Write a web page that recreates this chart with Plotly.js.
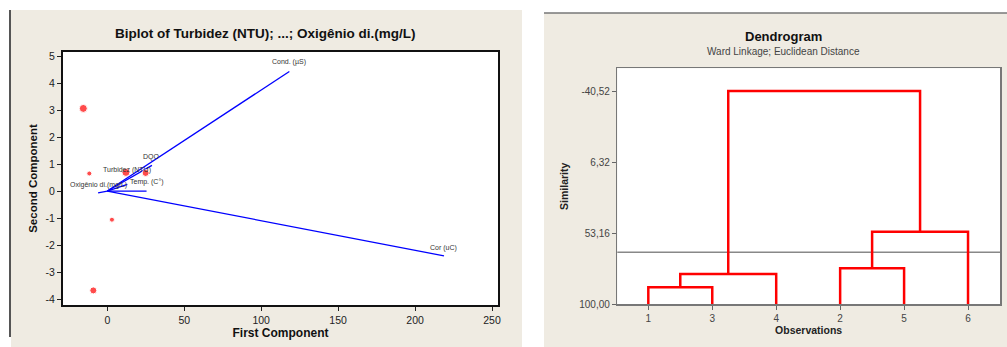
<!DOCTYPE html>
<html><head><meta charset="utf-8">
<script src="https://cdn.plot.ly/plotly-3.0.1.min.js"></script>
<style>html,body{margin:0;padding:0;background:#fff}#chart{width:1007px;height:347px}</style>
</head><body><div id="chart"></div>
<script>
// ---- Biplot data ----
const obsPC1 = [-15.6, -11.7, 12.1, 24.9, 3.0, -9.1];
const obsPC2 = [3.06, 0.65, 0.69, 0.67, -1.06, -3.68];
const varNames = ['Cond. (µS)', 'Cor (uC)', 'DQO', 'Temp. (C°)', 'Turbidez (NTU)', 'Oxigênio di.(mg/L)'];
const varPC1 = [118.3, 218.8, 29.0, 25.5, 13.0, -6.0];
const varPC2 = [4.43, -2.40, 0.95, 0.0, 0.25, -0.07];
const biplotXTicks = [0, 50, 100, 150, 200, 250];
const biplotYTicks = [-4, -3, -2, -1, 0, 1, 2, 3, 4, 5];
const biplotYTickLabels = ['-4', '-3', '-2', '-1', '0', '1', '2', '3', '4', '5'];

// ---- Dendrogram data ----
const observations = ['1', '3', '4', '2', '5', '6'];
const mergeFirst = ['1', '1+3', '2', '2+5', '1+3+4'];
const mergeSecond = ['3', '4', '5', '6', '2+5+6'];
const mergeSimilarity = [88.8, 80.0, 76.3, 52.2, -40.52];
const similarityTicks = [-40.52, 6.32, 53.16, 100];
const similarityTickLabels = ['-40,52', '6,32', '53,16', '100,00'];
const cutSimilarity = 65.7;

// ---- build traces ----
const vx = [], vy = [];
varPC1.forEach((v, i) => { vx.push(0, v, null); vy.push(0, varPC2[i], null); });

const nodes = {};
observations.forEach((o, i) => { nodes[o] = {x: i + 1, h: 100}; });
const dx = [], dy = [];
mergeFirst.forEach((a, i) => {
  const A = nodes[a], B = nodes[mergeSecond[i]], s = mergeSimilarity[i];
  dx.push(A.x, A.x, B.x, B.x, null);
  dy.push(A.h, s, s, B.h, null);
  nodes[a + '+' + mergeSecond[i]] = {x: (A.x + B.x) / 2, h: s};
});

const F = '"Liberation Sans", Arial, sans-serif';
const W = 1007, H = 347;
const px = v => v / W, py = v => 1 - v / H;

const traces = [
  {x: vx, y: vy, type: 'scatter', mode: 'lines', line: {color: '#0000ff', width: 1.3}, xaxis: 'x', yaxis: 'y', hoverinfo: 'skip'},
  {x: obsPC1, y: obsPC2, type: 'scatter', mode: 'markers', marker: {color: '#ff0000', size: [8, 5, 8, 7, 5, 7], symbol: 'circle'}, xaxis: 'x', yaxis: 'y'},
  {x: dx, y: dy, type: 'scatter', mode: 'lines', line: {color: '#ff0000', width: 2.5}, xaxis: 'x2', yaxis: 'y2', hoverinfo: 'skip'}
];

const annotations = [
  {text: 'Biplot of Turbidez (NTU); ...; Oxigênio di.(mg/L)', xref: 'paper', yref: 'paper', x: px(265), y: py(33), xanchor: 'center', yanchor: 'middle', showarrow: false, font: {family: F, size: 13.5, color: '#111', weight: 'bold'}},
  {text: 'Dendrogram', xref: 'paper', yref: 'paper', x: px(783), y: py(36), xanchor: 'center', yanchor: 'middle', showarrow: false, font: {family: F, size: 13, color: '#111', weight: 'bold'}},
  {text: 'Ward Linkage; Euclidean Distance', xref: 'paper', yref: 'paper', x: px(783), y: py(52), xanchor: 'center', yanchor: 'middle', showarrow: false, font: {family: F, size: 10, color: '#444'}}
];
const labelShift = [9, 8, 8, 9, 14, 8];
varNames.forEach((n, i) => {
  annotations.push({text: n, x: varPC1[i], y: varPC2[i], xref: 'x', yref: 'y', showarrow: false, xanchor: 'center', yanchor: 'middle', yshift: labelShift[i], font: {family: F, size: 7, color: '#333'}});
});

const shapes = [
  {type: 'rect', xref: 'paper', yref: 'paper', x0: px(11), x1: px(522), y0: 0, y1: py(10), fillcolor: '#efebe2', line: {width: 0}, layer: 'below'},
  {type: 'rect', xref: 'paper', yref: 'paper', x0: px(544), x1: 1, y0: 0, y1: py(13), fillcolor: '#efebe2', line: {width: 0}, layer: 'below'},
  {type: 'rect', xref: 'x domain', yref: 'y domain', x0: 0, x1: 1, y0: 0, y1: 1, fillcolor: '#ffffff', line: {width: 0}, layer: 'below'},
  {type: 'rect', xref: 'x2 domain', yref: 'y2 domain', x0: 0, x1: 1, y0: 0, y1: 1, fillcolor: '#ffffff', line: {width: 0}, layer: 'below'},
  {type: 'line', xref: 'paper', yref: 'paper', x0: px(10), x1: px(10), y0: py(337), y1: py(10), line: {color: '#555', width: 2}},
  {type: 'line', xref: 'paper', yref: 'paper', x0: px(544), x1: 1, y0: py(13), y1: py(13), line: {color: '#777', width: 1.5}},
  {type: 'line', xref: 'x2 domain', yref: 'y2', x0: 0, x1: 1, y0: cutSimilarity, y1: cutSimilarity, line: {color: '#888', width: 1.5}, layer: 'below'}
];

const layout = {
  width: W, height: H, margin: {l: 0, r: 0, t: 0, b: 0},
  paper_bgcolor: '#ffffff', plot_bgcolor: 'rgba(0,0,0,0)', showlegend: false,
  font: {family: F, size: 10, color: '#222'},
  xaxis: {domain: [px(63), px(498)], range: [-28.8, 253.9], anchor: 'y', tickvals: biplotXTicks,
    ticks: 'outside', ticklen: 4, tickcolor: '#222', showline: true, mirror: true, linecolor: '#111', linewidth: 2,
    showgrid: false, zeroline: false, tickfont: {size: 10.5, color: '#222'},
    title: {text: 'First Component', font: {size: 12, color: '#111', weight: 'bold'}, standoff: 4}},
  yaxis: {domain: [py(305), py(52)], range: [-4.22, 5.15], anchor: 'x', tickvals: biplotYTicks, ticktext: biplotYTickLabels,
    ticks: 'outside', ticklen: 4, tickcolor: '#222', showline: true, mirror: true, linecolor: '#111', linewidth: 2,
    showgrid: false, zeroline: false, tickfont: {size: 10.5, color: '#222'},
    title: {text: 'Second Component', font: {size: 11.5, color: '#111', weight: 'bold'}, standoff: 6}},
  xaxis2: {domain: [px(617.3), px(1000)], range: [0.515, 6.5], anchor: 'y2', tickvals: [1, 2, 3, 4, 5, 6], ticktext: observations,
    ticks: 'outside', ticklen: 4, tickcolor: '#666', showline: true, mirror: true, linecolor: '#777', linewidth: 1.5,
    showgrid: false, zeroline: false, tickfont: {size: 10, color: '#444'},
    title: {text: 'Observations', font: {size: 10.5, color: '#222', weight: 'bold'}, standoff: 2}},
  yaxis2: {domain: [py(304.3), py(68.3)], range: [100, -55.5], anchor: 'x2', tickvals: similarityTicks, ticktext: similarityTickLabels,
    ticks: 'outside', ticklen: 4, tickcolor: '#666', showline: true, mirror: true, linecolor: '#777', linewidth: 1.5,
    showgrid: false, zeroline: false, tickfont: {size: 10, color: '#444'},
    title: {text: 'Similarity', font: {size: 10.5, color: '#222', weight: 'bold'}, standoff: 8}},
  shapes: shapes,
  annotations: annotations
};

Plotly.newPlot('chart', traces, layout, {staticPlot: true, displayModeBar: false});
</script>
</body></html>
